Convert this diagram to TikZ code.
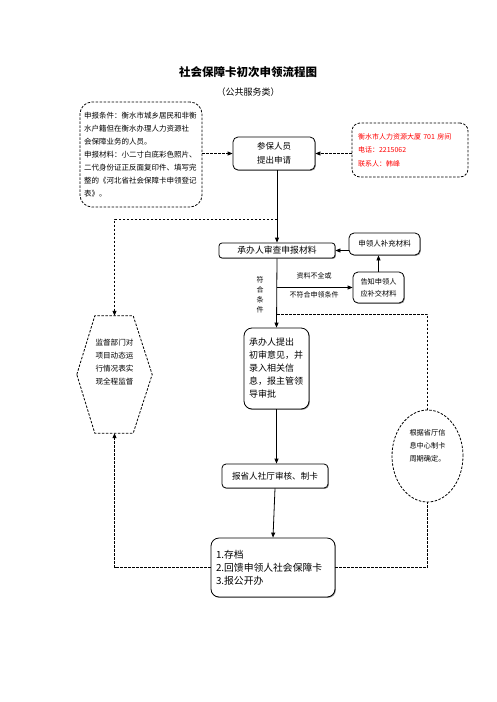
\documentclass[tikz,border=0pt]{standalone}
\usepackage{fontspec}
\setmainfont{Noto Sans CJK SC}
\usetikzlibrary{arrows.meta,positioning,shapes.geometric,shadows}

\begin{document}
\begin{tikzpicture}[x=1pt,y=-1pt,
box/.style={rectangle, draw, rounded corners=5pt, line width=0.8pt, fill=white, inner sep=3pt,
  drop shadow={shadow xshift=0.9pt, shadow yshift=-0.9pt, fill=black!70, opacity=0.6}},
note/.style={rectangle, draw, rounded corners=10pt, line width=0.8pt, dash pattern=on 2.5pt off 1.5pt, inner sep=3pt},
link/.style={line width=0.8pt, -{Triangle[length=5pt,width=4pt]}},
dashlink/.style={line width=0.8pt, dash pattern=on 2.5pt off 1.5pt},
dasharrow/.style={dashlink, -{Triangle[length=5pt,width=4pt]}},
info/.style={draw=none,fill=none,inner sep=0pt}]

%% page
\useasboundingbox (0,0) rectangle (496,702);

%% title
\node[info, font=\fontsize{11.5}{14}\selectfont\bfseries] (title) at (248,72) {社会保障卡初次申领流程图};
\node[info, font=\fontsize{9}{11}\selectfont] (subtitle) at (248,92) {（公共服务类）};

%% side notes
\node[note, rounded corners=12pt, minimum width=122pt, minimum height=105pt, text width=114pt, align=left,
  font=\fontsize{7.5}{13}\selectfont] (require) at (141,154.5)
  {申报条件：衡水市城乡居民和非衡\\水户籍但在衡水办理人力资源社\\会保障业务的人员。\\申报材料：小二寸白底彩色照片、\\二代身份证正反面复印件、填写完\\整的《河北省社会保障卡申领登记\\表》。};
\node[note, rounded corners=8pt, minimum width=116pt, minimum height=54pt, text width=104pt, align=left,
  text=red, font=\fontsize{7}{13.5}\selectfont] (contact) at (410,150)
  {衡水市人力资源大厦 701 房间\\电话：2215062\\联系人：韩峰};

%% main steps
\node[box, minimum width=82pt, minimum height=33pt, align=center, font=\fontsize{8.5}{14}\selectfont] (apply) at (274,153.5) {参保人员\\提出申请};
\node[box, rounded corners=3pt, minimum width=116pt, minimum height=15pt, font=\fontsize{8.8}{10}\selectfont] (check) at (277,250.5) {承办人审查申报材料};
\node[box, minimum width=71pt, minimum height=22pt, font=\fontsize{7.5}{10}\selectfont] (supply) at (384.5,244) {申领人补充材料};
\node[box, minimum width=51pt, minimum height=31pt, align=center, font=\fontsize{7.2}{12}\selectfont] (notify) at (378.5,287.5) {告知申领人\\应补交材料};
\node[box, rounded corners=8pt, minimum width=65pt, minimum height=81pt, text width=55pt, align=left,
  font=\fontsize{9}{13}\selectfont] (review) at (276.5,368.5) {承办人提出\\初审意见，并\\录入相关信\\息，报主管领\\导审批};
\node[box, rounded corners=4pt, minimum width=106pt, minimum height=24pt, font=\fontsize{8.6}{10}\selectfont] (report) at (275,476) {报省人社厅审核、制卡};
\node[box, rounded corners=8pt, minimum width=124pt, minimum height=59pt, text width=114pt, align=left,
  font=\fontsize{9.8}{13}\selectfont] (finish) at (273,567.5) {1.存档\\2.回馈申领人社会保障卡\\3.报公开办};

%% supervision and card cycle
\node[info, minimum width=75pt, minimum height=117pt,
  label={[info, yshift=12pt, align=left, font=\fontsize{7.6}{13}\selectfont]center:监督部门对\\项目动态运\\行情况表实\\现全程监督}] (monitor) at (114.5,374.5) {};
\draw[dashlink] (monitor.west) -- ([xshift=18pt]monitor.north west) -- ([xshift=-19pt]monitor.north east)
  -- (monitor.east) -- ([xshift=-19pt]monitor.south east) -- ([xshift=18pt]monitor.south west) -- cycle;
\node[ellipse, draw, dashlink, inner sep=0pt, minimum width=71pt, minimum height=92pt,
  label={[info, yshift=10pt, align=left, font=\fontsize{7.2}{13}\selectfont]center:根据省厅信\\息中心制卡\\周期确定。}] (cycle) at (427.5,456) {};

%% branch labels
\node[info, font=\fontsize{7}{9}\selectfont] (lack) at (314,276) {资料不全或};
\node[info, font=\fontsize{7}{9}\selectfont] (unfit) at (314,295) {不符合申领条件};
\node[info, align=center, font=\fontsize{7}{10}\selectfont] (pass) at (260,295) {符\\合\\条\\件};

%% branch points on the main line
\coordinate (tap) at (277,219);
\coordinate (split) at (277,314);

%% connectors
\draw[dasharrow] (require.east |- apply.west) -- (apply.west);
\draw[dasharrow] (contact.west |- apply.east) -- (apply.east);
\draw[link] (apply.south -| check.north) -- (check.north);
\draw[dasharrow] (tap) -| (monitor.north);
\draw[link] (supply.west |- check.east) -- (check.east);
\draw[link] (notify.north) -- (notify.north |- supply.south);
\draw[link] (check.south |- notify.west) -- (notify.west);
\draw[link] (check.south) -- (review.north);
\draw[dashlink] (split) -| (cycle.north);
\draw[link] (review.south) -- (review.south |- report.north);
\draw[link] (report.south) -- (finish.north);
\draw[dasharrow] (finish.west) -| (monitor.south);
\draw[dashlink] (finish.east) -| (cycle.south);

\end{tikzpicture}
\end{document}
